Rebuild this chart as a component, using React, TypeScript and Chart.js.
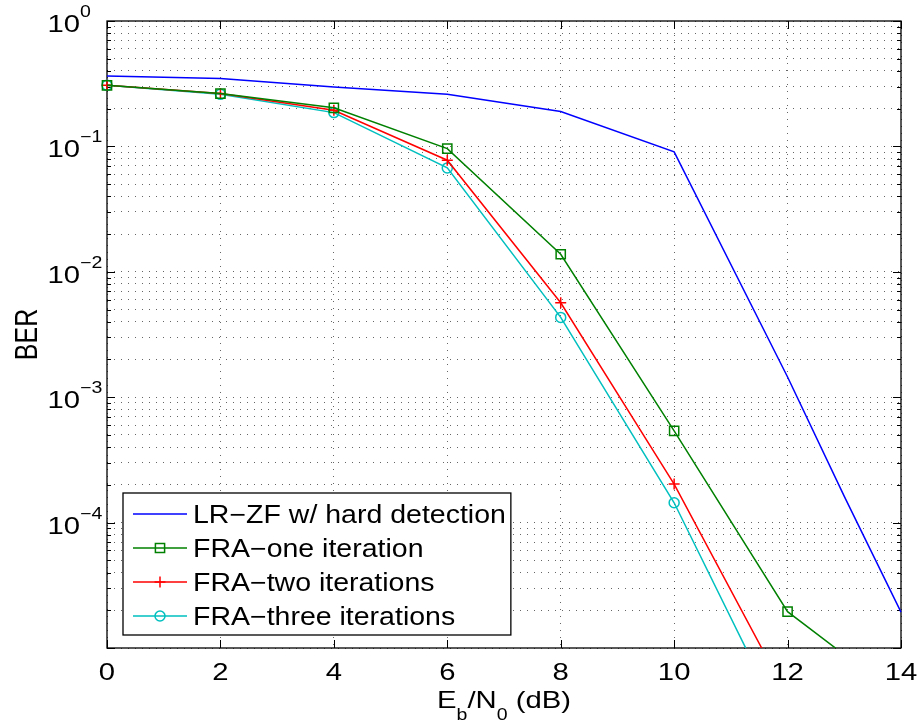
import React, { useEffect, useRef } from 'react';
import { Chart, registerables } from 'chart.js';

Chart.register(...registerables);

// ---- data ----
const blueX = [0, 2, 4, 6, 8, 10, 12, 13, 14];
const lrZfBER = [0.365, 0.348, 0.298, 0.26, 0.19, 0.0905, 1.45e-3, 1.62e-4, 1.93e-5];
const ebn0 = [0, 2, 4, 6, 8, 10, 12, 14];
const fraOneBER = [0.307, 0.264, 0.203, 0.096, 0.0138, 5.38e-4, 1.95e-5, 4.0e-6];
const fraTwoBER = [0.307, 0.264, 0.194, 0.0776, 5.66e-3, 2.03e-4, 4.1e-6];
const fraThreeBER = [0.307, 0.26, 0.186, 0.0674, 4.33e-3, 1.44e-4, 2.1e-6];
const xTickValues = [0, 2, 4, 6, 8, 10, 12, 14];
const xTickLabels = ['0', '2', '4', '6', '8', '10', '12', '14'];
const yDecadeExps = [0, -1, -2, -3, -4];
const yExpLabels = ['0', '\u22121', '\u22122', '\u22123', '\u22124'];
const seriesNames = [
  'LR\u2212ZF w/ hard detection',
  'FRA\u2212one iteration',
  'FRA\u2212two iterations',
  'FRA\u2212three iterations',
];
const Y_MIN = 1e-5;
const Y_MAX = 1;

const COLORS = ['#0000ff', '#008000', '#ff0000', '#00bfbf'];
const STYLES = ['none', 'rect', 'cross', 'circle'];
const RADII = [0, 6.5, 5.5, 5];

const yGridValues: number[] = [];
for (let d = -5; d < 0; d++) {
  for (let m = 1; m <= 9; m++) yGridValues.push(m * Math.pow(10, d));
}
yGridValues.push(1);

const FONT = '"Liberation Sans", Arial, Helvetica, sans-serif';
const SX = 1.22;
const LSX = 1.14;

function txt(ctx: CanvasRenderingContext2D, s: string, x: number, y: number, size: number, align: CanvasTextAlign, sx: number = SX) {
  ctx.save();
  ctx.translate(x, y);
  ctx.scale(sx, 1);
  ctx.font = `${size}px ${FONT}`;
  ctx.textAlign = align;
  ctx.textBaseline = 'alphabetic';
  ctx.fillStyle = '#000';
  ctx.fillText(s, 0, 0);
  ctx.restore();
}
function tw(ctx: CanvasRenderingContext2D, s: string, size: number, sx: number = SX) {
  ctx.save();
  ctx.font = `${size}px ${FONT}`;
  const w = ctx.measureText(s).width * sx;
  ctx.restore();
  return w;
}

function drawMarker(ctx: CanvasRenderingContext2D, style: string, x: number, y: number, r: number) {
  ctx.beginPath();
  if (style === 'rect') {
    const s = r * Math.SQRT1_2;
    ctx.rect(x - s, y - s, 2 * s, 2 * s);
  } else if (style === 'cross') {
    ctx.moveTo(x - r, y);
    ctx.lineTo(x + r, y);
    ctx.moveTo(x, y - r);
    ctx.lineTo(x, y + r);
  } else if (style === 'circle') {
    ctx.arc(x, y, r, 0, Math.PI * 2);
  }
  ctx.stroke();
}

const matlabPlugin = {
  id: 'matlabDecor',
  beforeDatasetsDraw(chart: any) {
    const ctx: CanvasRenderingContext2D = chart.ctx;
    const ca = chart.chartArea;
    const xs = chart.scales.x;
    const ys = chart.scales.y;
    ctx.save();
    ctx.strokeStyle = '#000';
    ctx.lineWidth = 1.3;
    ctx.strokeRect(ca.left, ca.top, ca.right - ca.left, ca.bottom - ca.top);
    ctx.lineWidth = 1;
    ctx.beginPath();
    xTickValues.forEach((v) => {
      const px = Math.round(xs.getPixelForValue(v)) + 0.5;
      ctx.moveTo(px, ca.bottom);
      ctx.lineTo(px, ca.bottom - 8);
      ctx.moveTo(px, ca.top);
      ctx.lineTo(px, ca.top + 8);
    });
    yGridValues.forEach((v) => {
      const major = Math.abs(Math.log10(v) - Math.round(Math.log10(v))) < 1e-9;
      const len = major ? 8 : 4;
      const py = Math.round(ys.getPixelForValue(v)) + 0.5;
      ctx.moveTo(ca.left, py);
      ctx.lineTo(ca.left + len, py);
      ctx.moveTo(ca.right, py);
      ctx.lineTo(ca.right - len, py);
    });
    ctx.stroke();
    ctx.restore();
  },
  afterDraw(chart: any) {
    const ctx: CanvasRenderingContext2D = chart.ctx;
    const ca = chart.chartArea;
    const xs = chart.scales.x;
    const ys = chart.scales.y;
    // x tick labels
    xTickValues.forEach((v, i) => {
      txt(ctx, xTickLabels[i], xs.getPixelForValue(v), ca.bottom + 32, 24, 'center');
    });
    // y tick labels 10^k
    yDecadeExps.forEach((e, i) => {
      const py = ys.getPixelForValue(Math.pow(10, e));
      txt(ctx, '10', ca.left - 27, py + 11, 24, 'right');
      txt(ctx, yExpLabels[i], ca.left - 27, py - 4, 16, 'left');
    });
    // x title E_b/N_0 (dB)
    const parts: [string, number, number][] = [
      ['E', 24, 0],
      ['b', 16, 12],
      ['/N', 24, 0],
      ['0', 16, 12],
      [' (dB)', 24, 0],
    ];
    const total = parts.reduce((a, p) => a + tw(ctx, p[0], p[1]), 0);
    let cx = (ca.left + ca.right) / 2 - total / 2;
    const by = ca.bottom + 60;
    parts.forEach((p) => {
      txt(ctx, p[0], cx, by + p[2], p[1], 'left');
      cx += tw(ctx, p[0], p[1]);
    });
    // y title
    ctx.save();
    ctx.translate(37, (ca.top + ca.bottom) / 2);
    ctx.scale(SX, 1);
    ctx.rotate(-Math.PI / 2);
    ctx.font = `25px ${FONT}`;
    ctx.textAlign = 'center';
    ctx.textBaseline = 'alphabetic';
    ctx.fillStyle = '#000';
    ctx.fillText('BER', 0, 0);
    ctx.restore();

    // legend
    const maxW = Math.max(...seriesNames.map((s) => tw(ctx, s, 25, LSX)));
    const bx = ca.left + 16;
    const bw = 70 + maxW + 5;
    const bh = 142;
    const byTop = ca.bottom - 13 - bh;
    ctx.save();
    ctx.fillStyle = '#fff';
    ctx.fillRect(bx, byTop, bw, bh);
    ctx.strokeStyle = '#000';
    ctx.lineWidth = 1.3;
    ctx.strokeRect(bx, byTop, bw, bh);
    seriesNames.forEach((name, i) => {
      const ry = byTop + 21 + i * 34;
      ctx.strokeStyle = COLORS[i];
      ctx.lineWidth = 1.5;
      ctx.beginPath();
      ctx.moveTo(bx + 10, ry);
      ctx.lineTo(bx + 64, ry);
      ctx.stroke();
      if (STYLES[i] !== 'none') drawMarker(ctx, STYLES[i], bx + 37, ry, RADII[i]);
      txt(ctx, name, bx + 70, ry + 9, 25, 'left', LSX);
    });
    ctx.restore();
  },
};

export default function App() {
  const ref = useRef<HTMLCanvasElement>(null);
  useEffect(() => {
    if (!ref.current) return;
    const mk = (i: number, xsArr: number[], ysArr: number[]) => ({
      label: seriesNames[i],
      data: xsArr.map((x, k) => ({ x, y: ysArr[k] })),
      borderColor: COLORS[i],
      backgroundColor: 'transparent',
      borderWidth: 1.5,
      pointStyle: STYLES[i] === 'none' ? false : STYLES[i],
      pointRadius: RADII[i],
      pointBorderWidth: 1.5,
      pointBorderColor: COLORS[i],
      pointBackgroundColor: 'transparent',
      tension: 0,
      clip: { left: 12, top: 12, right: 12, bottom: 0 },
    });
    const chart = new Chart(ref.current, {
      type: 'line',
      data: {
        datasets: [
          mk(0, blueX, lrZfBER),
          mk(1, ebn0, fraOneBER),
          mk(2, ebn0, fraTwoBER),
          mk(3, ebn0, fraThreeBER),
        ] as any,
      },
      options: {
        animation: false,
        responsive: false,
        layout: { padding: { left: 107, top: 21, right: 21, bottom: 80 } },
        plugins: { legend: { display: false }, tooltip: { enabled: false } },
        scales: {
          x: {
            type: 'linear',
            min: 0,
            max: 14,
            ticks: { display: false, stepSize: 2 },
            grid: { color: 'rgba(0,0,0,0.6)', lineWidth: 1, drawTicks: false },
            border: { display: false, dash: [1, 6] },
          },
          y: {
            type: 'logarithmic',
            min: Y_MIN,
            max: Y_MAX,
            afterBuildTicks: (scale: any) => {
              scale.ticks = yGridValues.map((v) => ({ value: v }));
            },
            ticks: { display: false },
            grid: { color: 'rgba(0,0,0,0.6)', lineWidth: 1, drawTicks: false },
            border: { display: false, dash: [1, 6] },
          },
        },
      },
      plugins: [matlabPlugin],
    });
    return () => chart.destroy();
  }, []);
  return (
    <div style={{ position: 'absolute', left: 0, top: 0, width: 922, height: 728, background: '#fff' }}>
      <canvas ref={ref} width={922} height={728} style={{ display: 'block' }} />
    </div>
  );
}
